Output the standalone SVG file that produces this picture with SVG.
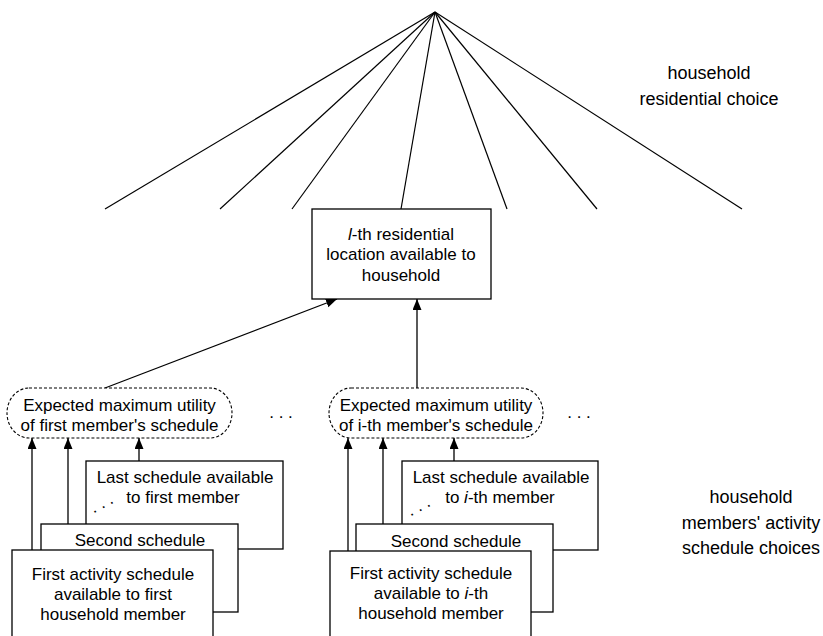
<svg xmlns="http://www.w3.org/2000/svg" width="823" height="636" viewBox="0 0 823 636">
<defs>
<style>
.t{font-family:"Liberation Sans",Arial,sans-serif;font-size:17px;fill:#000;text-anchor:middle}
.lbl{font-family:"Liberation Sans",Arial,sans-serif;font-size:18px;fill:#000;text-anchor:middle}
.box{fill:#fff;stroke:#000;stroke-width:1.3}
.dash{fill:#fff;stroke:#000;stroke-width:1.1;stroke-dasharray:3 2}
.ln{stroke:#000;stroke-width:1.2;fill:none}
.ar{stroke:#000;stroke-width:1.3;fill:none;marker-end:url(#ah)}
</style>
<marker id="ah" markerUnits="userSpaceOnUse" markerWidth="12" markerHeight="10" refX="11" refY="4.5" orient="auto">
<path d="M0,0 L11,4.5 L0,9 Z" fill="#000"/>
</marker>
</defs>
<rect width="823" height="636" fill="#fff"/>

<g id="connectors">
<line class="ln" x1="435" y1="12" x2="105" y2="209"/>
<line class="ln" x1="435" y1="12" x2="220" y2="209"/>
<line class="ln" x1="435" y1="12" x2="292" y2="209"/>
<line class="ln" x1="435" y1="12" x2="401" y2="209"/>
<line class="ln" x1="435" y1="12" x2="507" y2="209"/>
<line class="ln" x1="435" y1="12" x2="597" y2="209"/>
<line class="ln" x1="435" y1="12" x2="742" y2="209"/>
<line class="ar" x1="105" y1="388" x2="337" y2="299"/>
<line class="ar" x1="417" y1="388" x2="417" y2="299"/>
<line class="ar" x1="32" y1="550" x2="32" y2="438"/>
<line class="ar" x1="68" y1="524" x2="68" y2="438"/>
<line class="ar" x1="139" y1="461" x2="139" y2="438"/>
<line class="ar" x1="348" y1="551" x2="348" y2="438"/>
<line class="ar" x1="383" y1="524" x2="383" y2="438"/>
<line class="ar" x1="454" y1="461" x2="454" y2="438"/>
</g>

<g id="residential-location">
<rect class="box" x="312" y="209" width="179" height="90"/>
<text class="t" x="401" y="239.5"><tspan font-style="italic">l</tspan>-th residential</text>
<text class="t" x="401" y="260">location available to</text>
<text class="t" x="401" y="280.5">household</text>
</g>

<g id="emu-first">
<rect class="dash" x="7" y="388" width="225" height="50" rx="22" ry="25"/>
<text class="t" x="119.5" y="410.5">Expected maximum utility</text>
<text class="t" x="119.5" y="430.5">of first member's schedule</text>
</g>

<g id="emu-ith">
<rect class="dash" x="329" y="388" width="214" height="50" rx="22" ry="25"/>
<text class="t" x="436" y="410.5">Expected maximum utility</text>
<text class="t" x="436" y="430.5">of i-th member's schedule</text>
</g>

<g id="ellipsis-1"><text class="t" x="281" y="418">. . .</text></g>
<g id="ellipsis-2"><text class="t" x="579" y="418">. . .</text></g>

<g id="last-first">
<rect class="box" x="86" y="461" width="197" height="88"/>
<text class="t" x="185" y="483">Last schedule available</text>
<text class="t" x="183" y="503">to first member</text>
<text class="t" x="104" y="508" transform="rotate(-28 104 508)">. . .</text>
</g>
<g id="second-first">
<rect class="box" x="41" y="524" width="197" height="88"/>
<text class="t" x="140" y="546">Second schedule</text>
</g>
<g id="first-first">
<rect class="box" x="12" y="550" width="201" height="92"/>
<text class="t" x="113" y="580">First activity schedule</text>
<text class="t" x="113" y="600">available to first</text>
<text class="t" x="113" y="620">household member</text>
</g>

<g id="last-ith">
<rect class="box" x="402" y="461" width="196" height="89"/>
<text class="t" x="501" y="483">Last schedule available</text>
<text class="t" x="500" y="503">to <tspan font-style="italic">i</tspan>-th member</text>
<text class="t" x="421" y="511" transform="rotate(-28 421 511)">. . .</text>
</g>
<g id="second-ith">
<rect class="box" x="356" y="524" width="197" height="88"/>
<text class="t" x="456" y="547">Second schedule</text>
</g>
<g id="first-ith">
<rect class="box" x="330" y="551" width="201" height="91"/>
<text class="t" x="431" y="579">First activity schedule</text>
<text class="t" x="431" y="599">available to <tspan font-style="italic">i</tspan>-th</text>
<text class="t" x="431" y="619">household member</text>
</g>

<g id="label-residential">
<text class="lbl" x="709" y="78.5">household</text>
<text class="lbl" x="709" y="104.5">residential choice</text>
</g>
<g id="label-schedule">
<text class="lbl" x="751" y="502.5">household</text>
<text class="lbl" x="751" y="528.5">members' activity</text>
<text class="lbl" x="751" y="553.5">schedule choices</text>
</g>
</svg>
